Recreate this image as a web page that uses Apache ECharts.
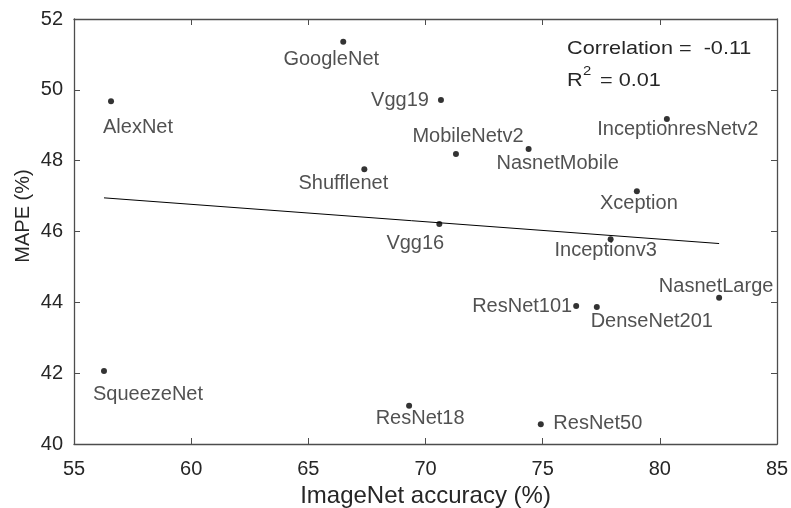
<!DOCTYPE html>
<html>
<head>
<meta charset="utf-8">
<script src="https://cdn.jsdelivr.net/npm/echarts@6/dist/echarts.min.js"></script>
<style>
  html, body { margin: 0; padding: 0; background: #fff; }
  #chart { width: 791px; height: 508px; }
</style>
</head>
<body>
<div id="chart"></div>
<script>
// data
const models = ['GoogleNet', 'AlexNet', 'Shufflenet', 'Vgg19', 'MobileNetv2', 'NasnetMobile',
  'InceptionresNetv2', 'Xception', 'Vgg16', 'Inceptionv3', 'SqueezeNet', 'NasnetLarge',
  'ResNet101', 'DenseNet201', 'ResNet18', 'ResNet50'];
const accuracy = [66.49, 56.58, 67.39, 70.66, 71.30, 74.40, 80.30, 79.02, 70.59, 77.90,
  56.28, 82.53, 76.43, 77.31, 69.30, 74.92];
const mape = [51.36, 49.68, 47.76, 49.71, 48.19, 48.33, 49.18, 47.14, 46.21, 45.78,
  42.06, 44.13, 43.90, 43.87, 41.08, 40.56];
// fitted line end points (x, y)
const fitX = [56.28, 82.53];
const fitY = [46.95, 45.66];
const xTicks = [55, 85, 5];
const yTicks = [40, 52, 2];

// label offsets from the dot, in pixels
const labelOffset = {
  GoogleNet: [-12, 18], AlexNet: [27, 26], Shufflenet: [-21, 14], Vgg19: [-41, 0],
  MobileNetv2: [12, -17], NasnetMobile: [29, 15], InceptionresNetv2: [11, 11],
  Xception: [2, 12], Vgg16: [-24, 19], Inceptionv3: [-5, 11], SqueezeNet: [44, 23],
  NasnetLarge: [-3, -11], ResNet101: [-54, 1], DenseNet201: [55, 15],
  ResNet18: [11, 13], ResNet50: [57, -1]
};

const font = 'Liberation Sans, Arial, sans-serif';
const txt = '#262626';
const axisCol = '#4d4d4d';

const chart = echarts.init(document.getElementById('chart'), null, { renderer: 'canvas' });

const points = models.map((m, i) => ({
  value: [accuracy[i], mape[i]],
  name: m,
  label: { offset: labelOffset[m] }
}));

const baseAxis = {
  axisLine: { show: true, lineStyle: { color: axisCol, width: 1.3 } },
  axisTick: { show: true, inside: true, length: 6, lineStyle: { color: axisCol } },
  splitLine: { show: false }
};

chart.setOption({
  animation: false,
  backgroundColor: '#fff',
  grid: { left: 74, right: 14, top: 19, bottom: 64, containLabel: false, outerBoundsMode: 'none' },
  xAxis: [
    Object.assign({}, baseAxis, {
      type: 'value', min: xTicks[0], max: xTicks[1], interval: xTicks[2],
      position: 'bottom',
      axisLabel: { color: txt, fontSize: 20, fontFamily: font, margin: 15 },
      name: 'ImageNet accuracy (%)', nameLocation: 'middle', nameGap: 40,
      nameTextStyle: { color: txt, fontSize: 24, fontFamily: font }
    }),
    Object.assign({}, baseAxis, {
      type: 'value', min: xTicks[0], max: xTicks[1], interval: xTicks[2],
      position: 'top', axisLabel: { show: false }
    })
  ],
  yAxis: [
    Object.assign({}, baseAxis, {
      type: 'value', min: yTicks[0], max: yTicks[1], interval: yTicks[2],
      position: 'left',
      axisLabel: { color: txt, fontSize: 20, fontFamily: font, margin: 11, padding: [5, 0, 0, 0] }
    }),
    Object.assign({}, baseAxis, {
      type: 'value', min: yTicks[0], max: yTicks[1], interval: yTicks[2],
      position: 'right', axisLabel: { show: false }
    })
  ],
  graphic: [
    { type: 'text', x: 23, y: 216, rotation: Math.PI / 2,
      style: { text: 'MAPE (%)', font: '20px ' + font, fill: txt, textAlign: 'center', textVerticalAlign: 'middle' } },
    { type: 'text', x: 567, y: 49, scaleX: 1.14,
      style: { text: 'Correlation =  -0.11', font: '19px ' + font, fill: txt, textAlign: 'left', textVerticalAlign: 'middle' } },
    { type: 'text', x: 567, y: 81, scaleX: 1.14,
      style: { text: 'R', font: '19px ' + font, fill: txt, textAlign: 'left', textVerticalAlign: 'middle' } },
    { type: 'text', x: 583, y: 71, scaleX: 1.14,
      style: { text: '2', font: '13px ' + font, fill: txt, textAlign: 'left', textVerticalAlign: 'middle' } },
    { type: 'text', x: 594, y: 81, scaleX: 1.14,
      style: { text: ' = 0.01', font: '19px ' + font, fill: txt, textAlign: 'left', textVerticalAlign: 'middle' } }
  ],
  series: [
    {
      type: 'line',
      data: fitX.map((x, i) => [x, fitY[i]]),
      showSymbol: false,
      lineStyle: { color: '#000', width: 1 },
      silent: true
    },
    {
      type: 'scatter',
      data: points,
      symbolSize: 6,
      itemStyle: { color: '#000' },
      label: {
        show: true,
        position: 'inside',
        formatter: '{b}',
        color: txt,
        fontSize: 20,
        fontFamily: font,
        align: 'center',
        verticalAlign: 'middle'
      }
    }
  ]
});
</script>
</body>
</html>
